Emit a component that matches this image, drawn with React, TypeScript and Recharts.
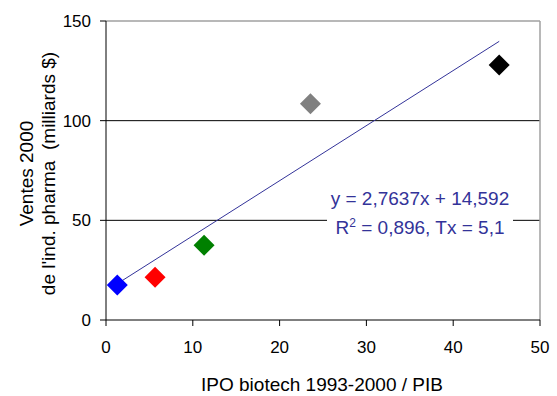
import { ScatterChart, Scatter, XAxis, YAxis, ReferenceLine } from 'recharts';

// IPO biotech 1993-2000 / PIB  vs  pharma sales 2000 (bn $)
const ipoRatio = [1.3, 5.65, 11.3, 23.55, 45.3];
const pharmaSales = [17.6, 21.4, 37.5, 108.5, 127.9];
const pointColors = ['#0000ff', '#ff0000', '#008000', '#808080', '#000000'];

const X_TICKS = [0, 10, 20, 30, 40, 50];
const Y_TICKS = [0, 50, 100, 150];
const GRID_Y = [50, 100];

// linear trend as drawn (ends at first and last point)
const trendStart = { x: 1.3, y: 18.2 };
const trendEnd = { x: 45.3, y: 139.8 };
const EQUATION = 'y = 2,7637x + 14,592';
const R2 = '0,896';
const TX = '5,1';

const FONT = '"Liberation Sans", Arial, sans-serif';
const TREND_COLOR = '#333399';

function Diamond(props: any) {
  const { cx, cy, fill } = props;
  const r = 10.5;
  return (
    <path
      d={`M${cx},${cy - r}L${cx + r},${cy}L${cx},${cy + r}L${cx - r},${cy}Z`}
      fill={fill}
    />
  );
}

function YTitle(props: any) {
  const vb = props.viewBox || { y: 21, height: 299 };
  const cy = vb.y + vb.height / 2 + 3;
  return (
    <g fontFamily={FONT} fontSize={19} fill="#000">
      <text x={33} y={cy} textAnchor="middle" transform={`rotate(-90 33 ${cy})`}>
        Ventes 2000
      </text>
      <text x={55} y={cy} textAnchor="middle" transform={`rotate(-90 55 ${cy})`} style={{ whiteSpace: 'pre' }}>
        {"de l'ind. pharma\u00a0\u00a0(milliards $)"}
      </text>
    </g>
  );
}

function XTitle(props: any) {
  const vb = props.viewBox || { x: 106, width: 434 };
  const cx = vb.x + vb.width / 2 - 1;
  return (
    <text x={cx} y={391} textAnchor="middle" fontFamily={FONT} fontSize={19} fill="#000">
      IPO biotech 1993-2000 / PIB
    </text>
  );
}

export default function App() {
  const points = ipoRatio.map((x, i) => ({ x, y: pharmaSales[i], color: pointColors[i] }));

  return (
    <div style={{ position: 'absolute', left: 0, top: 0, width: 557, height: 396, background: '#fff', fontFamily: FONT }}>
      <style>{'html,body{margin:0;padding:0;overflow:hidden}'}</style>
      <ScatterChart
        width={557}
        height={396}
        margin={{ top: 21, right: 17, bottom: 0, left: 0 }}
        style={{ fontFamily: FONT }}
      >
        <XAxis
          type="number"
          dataKey="x"
          domain={[0, 50]}
          ticks={X_TICKS}
          height={76}
          tickSize={6}
          tickMargin={15}
          axisLine={{ stroke: '#000' }}
          tickLine={{ stroke: '#000' }}
          tick={{ fill: '#000', fontSize: 17 }}
          label={{ content: XTitle }}
        />
        <YAxis
          type="number"
          dataKey="y"
          domain={[0, 150]}
          ticks={Y_TICKS}
          width={106}
          tickSize={6}
          tickMargin={9}
          axisLine={{ stroke: '#000' }}
          tickLine={{ stroke: '#000' }}
          tick={{ fill: '#000', fontSize: 17 }}
          label={{ content: YTitle }}
        />
        {GRID_Y.map((v) => (
          <ReferenceLine key={v} y={v} stroke="#000" strokeWidth={1} />
        ))}
        <ReferenceLine y={150} stroke="#a0a0a0" strokeWidth={1.5} />
        <ReferenceLine x={50} stroke="#a0a0a0" strokeWidth={1.5} />
        <ReferenceLine segment={[trendStart, trendEnd]} stroke={TREND_COLOR} strokeWidth={1} />
        {points.map((p, i) => (
          <Scatter
            key={i}
            data={[p]}
            fill={p.color}
            shape={<Diamond />}
            isAnimationActive={false}
          />
        ))}
      </ScatterChart>
      <div
        style={{
          position: 'absolute',
          left: 327,
          top: 184,
          width: 186,
          background: '#fff',
          color: TREND_COLOR,
          fontSize: 19,
          lineHeight: '29px',
          textAlign: 'center',
          whiteSpace: 'nowrap',
        }}
      >
        <div>{EQUATION}</div>
        <div>
          R<sup style={{ fontSize: 12, lineHeight: 0, verticalAlign: 7 }}>2</sup> = {R2}, Tx = {TX}
        </div>
      </div>
    </div>
  );
}
